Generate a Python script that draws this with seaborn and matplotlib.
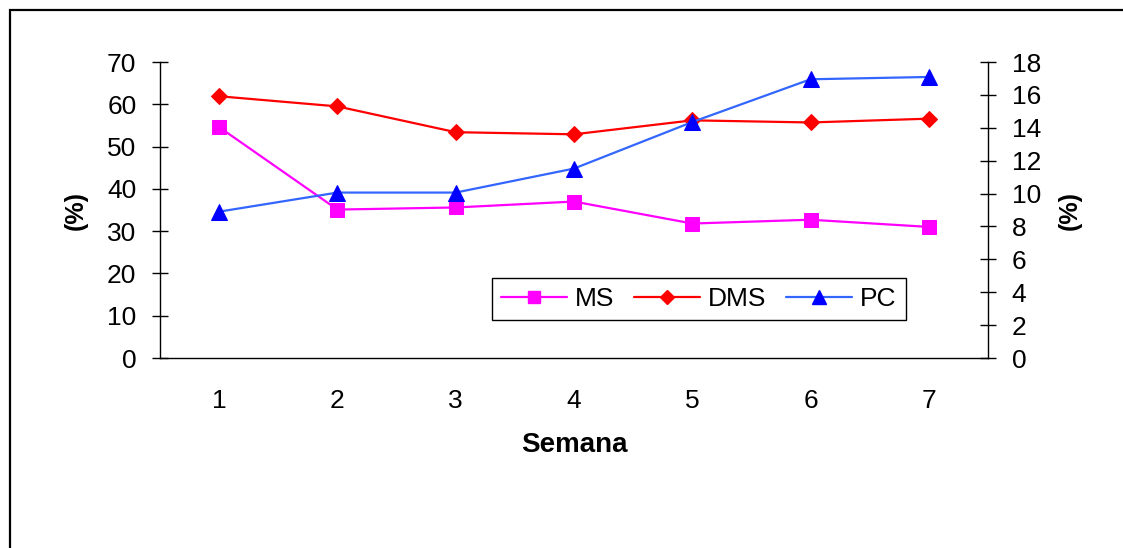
import matplotlib
matplotlib.use("Agg")
import matplotlib.pyplot as plt
from matplotlib.patches import Rectangle
from matplotlib.lines import Line2D
import seaborn as sns
import pandas as pd
import numpy as np

# Weekly measurements
semanas = [1, 2, 3, 4, 5, 6, 7]
ms = [54.6, 35.1, 35.6, 37.0, 31.8, 32.7, 31.0]
dms = [61.9, 59.5, 53.4, 52.9, 56.2, 55.7, 56.6]
pc = [8.9, 10.06, 10.06, 11.52, 14.35, 16.95, 17.09]

left_ticks = [0, 10, 20, 30, 40, 50, 60, 70]
right_ticks = [0, 2, 4, 6, 8, 10, 12, 14, 16, 18]

sns.set_style("white")
plt.rcParams["font.family"] = ["Liberation Sans", "DejaVu Sans"]
plt.rcParams.update({"text.color": "black", "axes.labelcolor": "black",
                     "xtick.color": "black", "ytick.color": "black"})

df = pd.DataFrame({"Semana": semanas, "MS": ms, "DMS": dms, "PC": pc})

fig = plt.figure(figsize=(11.23, 5.48), dpi=100)
ax = fig.add_axes([160 / 1123, 1 - 358 / 548, 828 / 1123, 296 / 548])
ax2 = ax.twinx()

fs = 19
lw = 1.6

sns.lineplot(data=df, x="Semana", y="MS", ax=ax, color="#FF00FF", lw=lw,
             marker="s", markersize=9.5, markerfacecolor="#FF00FF",
             markeredgecolor="#FF00FF", label="MS", legend=False)
sns.lineplot(data=df, x="Semana", y="DMS", ax=ax, color="#FF0000", lw=lw,
             marker="D", markersize=8.5, markerfacecolor="#FF0000",
             markeredgecolor="#FF0000", label="DMS", legend=False)
sns.lineplot(data=df, x="Semana", y="PC", ax=ax2, color="#3366FF", lw=lw,
             marker="^", markersize=11, markerfacecolor="#0000FF",
             markeredgecolor="#0000FF", label="PC", legend=False)

ax.set_xlim(0.5, 7.5)
ax.set_ylim(0, 70)
ax2.set_ylim(0, 18)

# category ticks: labels at integers, tick marks at the boundaries
ax.set_xticks(semanas)
ax.set_xticklabels([str(s) for s in semanas])
ax.set_xticks(np.arange(0.5, 8, 1.0), minor=True)
ax.tick_params(axis="x", which="major", length=0, pad=22, labelsize=fs,
               labelcolor="black")
ax.tick_params(axis="x", which="minor", direction="inout", length=12,
               width=1, color="black")

ax.set_yticks(left_ticks)
ax.tick_params(axis="y", which="major", direction="inout", length=12,
               width=1, pad=11, labelsize=fs, left=True, color="black",
               labelcolor="black")
ax2.set_yticks(right_ticks)
ax2.tick_params(axis="y", which="major", direction="inout", length=12,
                width=1, pad=11, labelsize=fs, right=True, color="black",
                labelcolor="black")

for a in (ax, ax2):
    a.spines["top"].set_visible(False)
    for s in ("left", "right", "bottom"):
        a.spines[s].set_color("black")
        a.spines[s].set_linewidth(1)
ax.spines["right"].set_visible(False)
ax2.spines["left"].set_visible(False)
ax2.spines["bottom"].set_visible(False)

ax.set_xlabel("Semana", fontsize=20, fontweight="bold", labelpad=14,
              color="black")
ax.set_ylabel("(%)", fontsize=18, fontweight="bold", labelpad=14,
              color="black")
ax2.set_ylabel("(%)", fontsize=18, fontweight="bold", labelpad=12,
               rotation=90, color="black")

handles = [
    Line2D([], [], color="#FF00FF", lw=lw, marker="s", markersize=8,
           markerfacecolor="#FF00FF", markeredgecolor="#FF00FF"),
    Line2D([], [], color="#FF0000", lw=lw, marker="D", markersize=7.5,
           markerfacecolor="#FF0000", markeredgecolor="#FF0000"),
    Line2D([], [], color="#3366FF", lw=lw, marker="^", markersize=10,
           markerfacecolor="#0000FF", markeredgecolor="#0000FF"),
]
leg = ax2.legend(handles, ["MS", "DMS", "PC"], ncol=3, fontsize=fs,
                 loc="upper left",
                 bbox_to_anchor=(492 / 1123, 1 - 278 / 548),
                 bbox_transform=fig.transFigure,
                 frameon=True, fancybox=False, framealpha=1,
                 edgecolor="black", handlelength=2.5, handletextpad=0.3,
                 columnspacing=0.75, borderpad=0.35, borderaxespad=0)
leg.get_frame().set_linewidth(1)
for t in leg.get_texts():
    t.set_color("black")

# chart area border
fig.add_artist(Rectangle((10 / 1123, -0.5), 2.0, 1 - 10 / 548 + 0.5,
                         transform=fig.transFigure, fill=False,
                         edgecolor="black", linewidth=1.6, clip_on=False))

fig.savefig("out.png", dpi=100)
